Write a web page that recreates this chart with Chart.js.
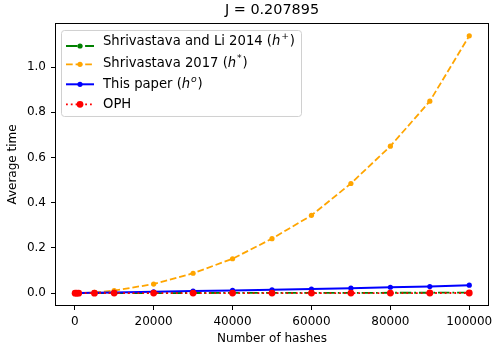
<!DOCTYPE html>
<html>
<head>
<meta charset="utf-8">
<script src="https://cdn.jsdelivr.net/npm/chart.js@4/dist/chart.umd.min.js"></script>
<style>
  html, body { margin: 0; padding: 0; background: #fff; }
  canvas { display: block; }
</style>
</head>
<body>
<canvas id="timeChart" width="493" height="349"></canvas>
<script>
// Data
const hashes = [100, 500, 1000, 5000, 10000, 20000, 30000, 40000, 50000, 60000, 70000, 80000, 90000, 100000];
const shrivastavaLi2014 = [0, 0, 0, 0.0001, 0.0002, 0.0004, 0.0006, 0.0008, 0.001, 0.0012, 0.0014, 0.0016, 0.0018, 0.002];
const shrivastava2017 = [0, 0.0002, 0.0005, 0.003, 0.0115, 0.040, 0.088, 0.152, 0.241, 0.344, 0.485, 0.650, 0.849, 1.138];
const thisPaper = [0.00003, 0.0002, 0.0003, 0.0015, 0.003, 0.006, 0.009, 0.012, 0.015, 0.018, 0.022, 0.026, 0.029, 0.035];
const oph = [0, 0, 0, 0, 0.0001, 0.0001, 0.0002, 0.0002, 0.0003, 0.0003, 0.0004, 0.0004, 0.0005, 0.0005];

const seriesNames = ['Shrivastava and Li 2014', 'Shrivastava 2017', 'This paper', 'OPH'];
const seriesSups = ['+', '*', 'o', null];
const seriesColors = ['#008000', '#FFA500', '#0000FF', '#FF0000'];

const xTicks = [0, 20000, 40000, 60000, 80000, 100000];
const yTicks = [0.0, 0.2, 0.4, 0.6, 0.8, 1.0];

const FONT = 'DejaVu Sans';
Chart.defaults.color = '#000';
Chart.defaults.font.family = FONT;

// dash patterns like matplotlib at lw 1.8
const dashes = [
    [11.5, 2.9, 1.8, 2.9],  // dash-dot
    [6.7, 2.9],             // dashed
    [],                     // solid
    [1.8, 3.0]              // dotted
];
const radii = [2.6, 2.6, 2.6, 3.4];

function toPoints(ys) {
    return hashes.map((x, i) => ({ x: x, y: ys[i] }));
}

const allSeries = [shrivastavaLi2014, shrivastava2017, thisPaper, oph];

const datasets = allSeries.map((ys, i) => ({
    label: seriesNames[i],
    data: toPoints(ys),
    borderColor: seriesColors[i],
    backgroundColor: seriesColors[i],
    pointBackgroundColor: seriesColors[i],
    pointBorderWidth: 0,
    pointRadius: radii[i],
    borderWidth: i === 2 ? 2 : 1.8,
    borderDash: dashes[i],
    tension: 0,
    order: 4 - i
}));

// frame around the plot area (all four spines)
const framePlugin = {
    id: 'frame',
    afterDatasetsDraw(chart) {
        const a = chart.chartArea;
        const ctx = chart.ctx;
        ctx.save();
        ctx.strokeStyle = '#000';
        ctx.lineWidth = 1;
        ctx.strokeRect(Math.round(a.left) + 0.5, Math.round(a.top) + 0.5,
            Math.round(a.right - a.left) - 1, Math.round(a.bottom - a.top) - 1);
        ctx.restore();
    }
};

// legend drawn inside the plot, top left
const insideLegend = {
    id: 'insideLegend',
    afterDraw(chart) {
        const ctx = chart.ctx;
        const a = chart.chartArea;
        const bx = a.left + 6.5, by = a.top + 7.5, bw = 240, bh = 86;
        ctx.save();
        ctx.beginPath();
        ctx.roundRect(bx, by, bw, bh, 3);
        ctx.fillStyle = 'rgba(255,255,255,0.8)';
        ctx.fill();
        ctx.strokeStyle = '#d0d0d0';
        ctx.lineWidth = 1;
        ctx.stroke();

        const lineY = [46, 64.3, 84.3, 104.3];
        const textY = [42, 63.5, 84.3, 104.3];
        const fs = 13.2;
        seriesNames.forEach((name, i) => {
            const ds = datasets[i];
            ctx.strokeStyle = ds.borderColor;
            ctx.lineWidth = ds.borderWidth;
            ctx.setLineDash(ds.borderDash);
            ctx.beginPath();
            ctx.moveTo(66, lineY[i]);
            ctx.lineTo(94, lineY[i]);
            ctx.stroke();
            ctx.setLineDash([]);
            ctx.fillStyle = ds.borderColor;
            ctx.beginPath();
            ctx.arc(80, lineY[i], ds.pointRadius, 0, Math.PI * 2);
            ctx.fill();

            ctx.fillStyle = '#000';
            ctx.textBaseline = 'middle';
            let x = 103;
            const y = textY[i];
            ctx.font = fs + 'px "' + FONT + '"';
            if (seriesSups[i] === null) {
                ctx.fillText(name, x, y);
                return;
            }
            const head = name + ' (';
            ctx.fillText(head, x, y);
            x += ctx.measureText(head).width;
            ctx.font = 'italic ' + fs + 'px "' + FONT + '"';
            ctx.fillText('h', x, y);
            x += ctx.measureText('h').width + 0.8;
            ctx.font = (seriesSups[i] === 'o' ? 'italic ' : '') + '9.3px "' + FONT + '"';
            ctx.fillText(seriesSups[i], x, y - 5);
            x += ctx.measureText(seriesSups[i]).width + 0.8;
            ctx.font = fs + 'px "' + FONT + '"';
            ctx.fillText(')', x, y);
        });
        ctx.restore();
    }
};

const tickFont = { family: FONT, size: 12 };

new Chart(document.getElementById('timeChart'), {
    type: 'line',
    data: { datasets: datasets },
    options: {
        responsive: false,
        animation: false,
        devicePixelRatio: 1,
        layout: { padding: { left: 0, right: 3, top: 0, bottom: 0 } },
        plugins: {
            legend: { display: false },
            tooltip: { enabled: false },
            title: {
                display: true,
                text: 'J = 0.207895',
                fullSize: false,
                color: '#000',
                font: { family: FONT, size: 14.4, weight: 'normal', lineHeight: 1.2 },
                padding: { top: 2, bottom: 3.7 }
            }
        },
        scales: {
            x: {
                type: 'linear',
                min: -5000,
                max: 105000,
                afterBuildTicks: s => { s.ticks = xTicks.map(v => ({ value: v })); },
                afterFit: s => { s.height = 43; s.paddingLeft = 0; s.paddingRight = 0; },
                ticks: {
                    font: tickFont, color: '#000', padding: 5, maxRotation: 0, autoSkip: false,
                    callback: v => String(v)
                },
                grid: { drawOnChartArea: false, drawTicks: true, tickLength: 4, tickColor: '#000', tickWidth: 1 },
                border: { display: false },
                title: {
                    display: true, text: 'Number of hashes', color: '#000',
                    font: { family: FONT, size: 12 }, padding: { top: 0, bottom: 3 }
                }
            },
            y: {
                type: 'linear',
                min: -0.0569,
                max: 1.195,
                afterBuildTicks: s => { s.ticks = yTicks.map(v => ({ value: v })); },
                afterFit: s => { s.width = 55; s.paddingTop = 0; s.paddingBottom = 0; },
                ticks: {
                    font: tickFont, color: '#000', padding: 5,
                    callback: v => v.toFixed(1)
                },
                grid: { drawOnChartArea: false, drawTicks: true, tickLength: 4, tickColor: '#000', tickWidth: 1 },
                border: { display: false },
                title: {
                    display: true, text: 'Average time', color: '#000',
                    font: { family: FONT, size: 12 }, padding: { top: 6, bottom: 0 }
                }
            }
        }
    },
    plugins: [framePlugin, insideLegend]
});
</script>
</body>
</html>
